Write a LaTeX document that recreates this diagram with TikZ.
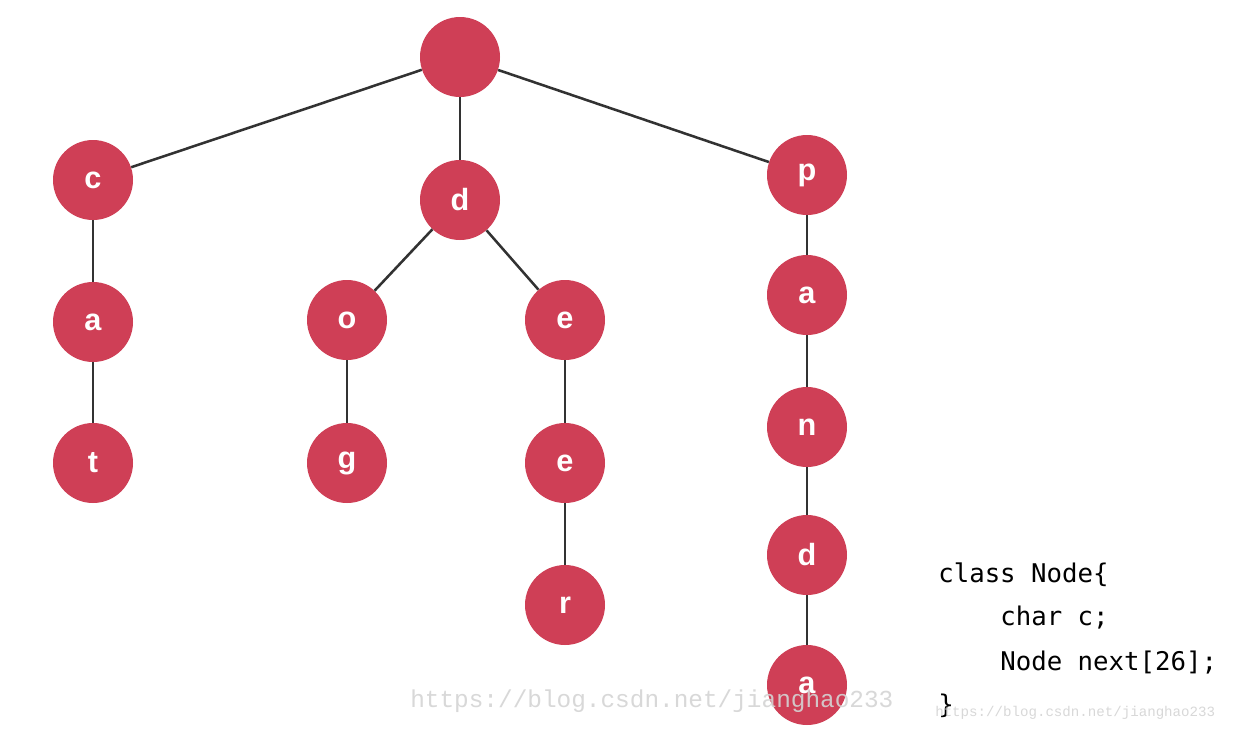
\documentclass[tikz,border=0pt]{standalone}
\usepackage{fontspec}
\setmainfont{Liberation Sans}
\newfontfamily\codefont{DejaVu Sans Mono}
\newfontfamily\markfont{Liberation Mono}
\definecolor{nodered}{RGB}{207,63,86}
\definecolor{edgegray}{RGB}{50,50,50}
\definecolor{markgray}{RGB}{212,212,212}
\begin{document}
\begin{tikzpicture}[x=0.75pt,y=-0.75pt,
  trienode/.style={circle,fill=nodered,minimum size=60pt,inner sep=0pt,
    text=white,font=\fontsize{23}{23}\selectfont\bfseries},
  edge/.style={draw=edgegray,line width=1.9pt},
  codeline/.style={anchor=base west,inner sep=0pt,font=\codefont\fontsize{19.3}{20}\selectfont},
  watermark/.style={inner sep=0pt,text=markgray,opacity=0.9}]
\useasboundingbox (0,0) rectangle (1246,736);
\fill[white] (0,0) rectangle (1246,736);
% nodes of the trie
\node[trienode] (root) at (460,57) {};
\node[trienode] (c) at (93,180) {c};
\node[trienode] (ca) at (93,322) {a};
\node[trienode] (t) at (93,463) {t};
\node[trienode] (d) at (460,200) {d};
\node[trienode] (o) at (347,320) {o};
\node[trienode] (g) at (347,463) {g};
\node[trienode] (e1) at (565,320) {e};
\node[trienode] (e2) at (565,463) {e};
\node[trienode] (r) at (565,605) {r};
\node[trienode] (p) at (807,175) {p};
\node[trienode] (pa) at (807,295) {a};
\node[trienode] (n) at (807,427) {n};
\node[trienode] (pd) at (807,555) {d};
\node[trienode] (pa2) at (807,685) {a};
% edges between parent and child
\draw[edge] (root) -- (c);
\draw[edge] (root) -- (d);
\draw[edge] (root) -- (p);
\draw[edge] (c) -- (ca);
\draw[edge] (ca) -- (t);
\draw[edge] (d) -- (o);
\draw[edge] (d) -- (e1);
\draw[edge] (o) -- (g);
\draw[edge] (e1) -- (e2);
\draw[edge] (e2) -- (r);
\draw[edge] (p) -- (pa);
\draw[edge] (pa) -- (n);
\draw[edge] (n) -- (pd);
\draw[edge] (pd) -- (pa2);
% class definition
\node[codeline] (l1) at (938,582) {class Node\{};
\node[codeline] (l2) at (1000,625) {char c;};
\node[codeline] (l3) at (1000,670) {Node next[26];};
\node[codeline] (l4) at (938,713) {\}};
% watermarks
\node[watermark,anchor=base west,font=\markfont\fontsize{18.3}{19}\selectfont] (wm1) at (410,707) {https://blog.csdn.net/jianghao233};
\node[watermark,anchor=base west,font=\markfont\fontsize{10.6}{11}\selectfont] (wm2) at (935,716) {https://blog.csdn.net/jianghao233};
\end{tikzpicture}
\end{document}
